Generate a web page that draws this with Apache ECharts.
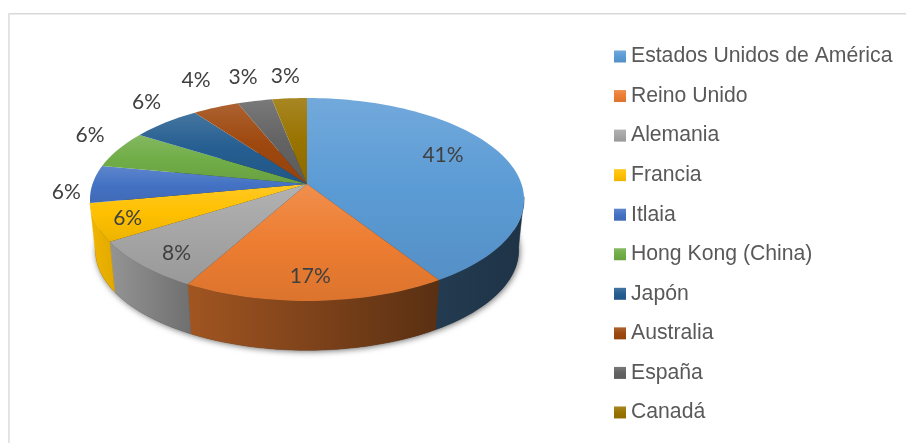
<!DOCTYPE html>
<html>
<head>
<meta charset="utf-8">
<style>
  html, body { margin: 0; padding: 0; background: #fff; }
  #myChart { width: 906px; height: 443px; }
</style>
<script src="https://cdn.jsdelivr.net/npm/echarts@6/dist/echarts.min.js"></script>
</head>
<body>
<div id="myChart"></div>
<script>
var paises = ["Estados Unidos de América", "Reino Unido", "Alemania", "Francia", "Itlaia",
  "Hong Kong (China)", "Japón", "Australia", "España", "Canadá"];
var valores = [41, 17, 8, 6, 6, 6, 6, 4, 3, 3];
var colores = ["#5b9bd5", "#ed7d31", "#a5a5a5", "#ffc000", "#4472c4",
  "#70ad47", "#255e91", "#9e480e", "#636363", "#997300"];
// ajuste a mano de cada etiqueta (dx, dy, dentro/fuera)
var etiquetaDentro = [true, true, true, true, false, false, false, false, false, false];
var etiquetaAjuste = [[-4, -10], [-2, 15], [-19, 14], [-34, 8], [6, 8], [-1.5, -9], [0, -12], [-8, -17.5], [-5, -13], [-2, -11]];

// perspectiva del disco
var CX = 307, CY = 184, RADIO = 100;
var A = 214.5, B = 99.1, K = 0.1527;
var FONDO_Y = 235, FONDO_ESCALA_X = 0.975, FONDO_ESCALA_Y = 0.985;
// parte visible del lateral, en % de la vuelta
var LADO_DESDE = 27, LADO_HASTA = 72;

function mezcla(hex, f) {
  // f < 1 oscurece, f > 1 aclara hacia blanco
  var n = parseInt(hex.slice(1), 16);
  var c = [n >> 16, (n >> 8) & 255, n & 255].map(function (v) {
    return Math.round(f <= 1 ? v * f : v + (255 - v) * (f - 1));
  });
  return "rgb(" + c.join(",") + ")";
}

function degradadoTapa(hex) {
  return {
    type: "linear", x: 0, y: 0, x2: 0, y2: 1,
    colorStops: [
      { offset: 0, color: mezcla(hex, 1.14) },
      { offset: 0.5, color: hex },
      { offset: 1, color: mezcla(hex, 0.93) }
    ]
  };
}

function degradadoLado(hex) {
  return {
    type: "linear", x: 90, y: 0, x2: 523, y2: 0, global: true,
    colorStops: [
      { offset: 0, color: mezcla(hex, 0.95) },
      { offset: 0.23, color: mezcla(hex, 0.68) },
      { offset: 0.8, color: mezcla(hex, 0.38) },
      { offset: 1, color: mezcla(hex, 0.33) }
    ]
  };
}

// punto polar de echarts -> disco visto en perspectiva
function proyecta(p, y0, ex, ey) {
  var u = (p[0] - CX) / RADIO, v = (p[1] - CY) / RADIO;
  var d = 1 - K * v;
  return [CX + ex * A * u / d, y0 + ey * B * v / d];
}

function arco(api, desde, hasta, y0, ex, ey) {
  var pasos = Math.max(2, Math.ceil((hasta - desde) * 2));
  var pts = [];
  for (var i = 0; i <= pasos; i++) {
    var pct = desde + (hasta - desde) * i / pasos;
    pts.push(proyecta(api.coord([1, pct]), y0, ex, ey));
  }
  return pts;
}

function dibujaPorcion(idx) {
  return function (params, api) {
    var desde = api.value(0), hasta = api.value(1), hex = colores[idx];
    var arriba = arco(api, desde, hasta, CY, 1, 1);
    var hijos = [];

    // lateral, solo la parte que se ve
    var ladoDesde = Math.max(desde, LADO_DESDE), ladoHasta = Math.min(hasta, LADO_HASTA);
    if (ladoDesde < ladoHasta) {
      hijos.push({
        type: "polygon", z2: 1,
        shape: {
          points: arco(api, ladoDesde, ladoHasta, CY, 1, 1).concat(
            arco(api, ladoDesde, ladoHasta, FONDO_Y, FONDO_ESCALA_X, FONDO_ESCALA_Y).reverse())
        },
        style: { fill: degradadoLado(hex), stroke: degradadoLado(hex), lineWidth: 0.5 }
      });
    }

    hijos.push({
      type: "polygon", z2: 5,
      shape: { points: [proyecta(api.coord([0, desde]), CY, 1, 1)].concat(arriba) },
      style: { fill: degradadoTapa(hex) }
    });

    var r = etiquetaDentro[idx] ? 0.7 : 1.15;
    var pe = proyecta(api.coord([r, (desde + hasta) / 2]), CY, 1, 1);
    hijos.push({
      type: "text", z2: 10,
      style: {
        text: valores[idx] + "%",
        x: pe[0] + etiquetaAjuste[idx][0],
        y: pe[1] + etiquetaAjuste[idx][1],
        fill: "#404040",
        font: '21px Lato, sans-serif',
        align: "center",
        verticalAlign: "middle"
      }
    });

    return { type: "group", children: hijos };
  };
}

function dibujaBase(params, api) {
  return {
    type: "polygon", z2: 0,
    shape: { points: arco(api, 0, 100, FONDO_Y, FONDO_ESCALA_X, FONDO_ESCALA_Y) },
    style: {
      fill: "#333",
      shadowBlur: 6,
      shadowColor: "rgba(0,0,0,0.6)",
      shadowOffsetX: 1,
      shadowOffsetY: 1
    }
  };
}

var acumulado = 0;
var series = [{
  name: "base", type: "custom", coordinateSystem: "polar", silent: true,
  renderItem: dibujaBase, data: [[0, 100]]
}];
paises.forEach(function (nombre, i) {
  series.push({
    name: nombre,
    type: "custom",
    coordinateSystem: "polar",
    silent: true,
    renderItem: dibujaPorcion(i),
    itemStyle: { color: colores[i] },
    data: [[acumulado, acumulado + valores[i]]]
  });
  acumulado += valores[i];
});

var myChart = echarts.init(document.getElementById("myChart"), null, { renderer: "canvas" });
myChart.setOption({
  animation: false,
  backgroundColor: "#fff",
  polar: { center: [CX, CY], radius: RADIO },
  angleAxis: { type: "value", min: 0, max: 100, startAngle: 90, clockwise: true, show: false },
  radiusAxis: { type: "value", min: 0, max: 1, show: false },
  legend: {
    orient: "vertical",
    left: 614,
    top: 46,
    padding: 0,
    itemWidth: 12,
    itemHeight: 12,
    itemGap: 18.55,
    selectedMode: false,
    textStyle: {
      color: "#595959",
      fontFamily: "Liberation Sans",
      fontSize: 21.2,
      lineHeight: 21
    },
    data: paises.map(function (nombre, i) {
      return { name: nombre, icon: "rect", itemStyle: { color: degradadoTapa(colores[i]) } };
    })
  },
  graphic: [
    { type: "rect", silent: true, shape: { x: 8, y: 13, width: 898, height: 1.4 }, style: { fill: "#d9d9d9" } },
    { type: "rect", silent: true, shape: { x: 8, y: 13, width: 1.8, height: 430 }, style: { fill: "#e2e2e2" } }
  ],
  series: series
});
</script>
</body>
</html>
